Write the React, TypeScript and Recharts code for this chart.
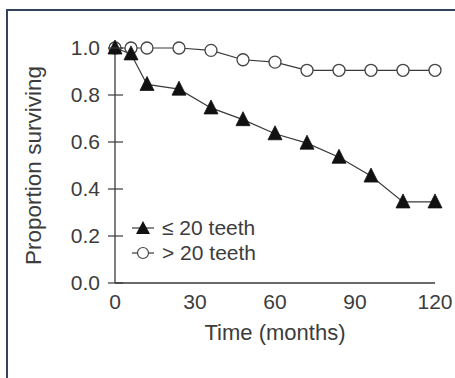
import React from 'react';
import { LineChart, Line, XAxis, YAxis, Legend } from 'recharts';

const months = [0, 6, 12, 24, 36, 48, 60, 72, 84, 96, 108, 120];
const fewTeeth = [1.0, 0.975, 0.845, 0.825, 0.745, 0.695, 0.635, 0.595, 0.535, 0.455, 0.345, 0.345];
const manyTeeth = [1.0, 1.0, 1.0, 1.0, 0.99, 0.95, 0.94, 0.905, 0.905, 0.905, 0.905, 0.905];
const xTicks = [0, 30, 60, 90, 120];
const yTicks = [0, 0.2, 0.4, 0.6, 0.8, 1.0];
const legendOrder = ['few', 'many'];

const data = months.map((m, i) => ({ month: m, few: fewTeeth[i], many: manyTeeth[i] }));

const FONT = '"Liberation Sans", Arial, Helvetica, sans-serif';
const INK = '#3c3c3c';
const LINE = '#3a3a3a';

const TriangleDot = (props: any) => {
  const { cx, cy } = props;
  if (cx == null || cy == null) return null;
  return (
    <path
      d={`M${cx},${cy - 8} L${cx - 7},${cy + 6} L${cx + 7},${cy + 6} Z`}
      fill="#111"
      stroke="#111"
      strokeWidth={0.8}
    />
  );
};

const CircleDot = (props: any) => {
  const { cx, cy } = props;
  if (cx == null || cy == null) return null;
  return <circle cx={cx} cy={cy} r={6} fill="#fff" stroke="#444" strokeWidth={1.3} />;
};

const YTick = (props: any) => {
  const { x, y, payload } = props;
  return (
    <g>
      <line x1={x + 8} x2={x + 23} y1={y} y2={y} stroke={LINE} strokeWidth={1.2} />
      <text x={x} y={y} dy="0.355em" textAnchor="end" fill={INK} fontSize={21} fontFamily={FONT}>
        {Number(payload.value).toFixed(1)}
      </text>
    </g>
  );
};

const LegendBox = (props: any) => {
  const items = [...(props.payload || [])].sort(
    (a: any, b: any) => legendOrder.indexOf(a.dataKey) - legendOrder.indexOf(b.dataKey)
  );
  return (
    <div style={{ fontFamily: FONT, fontSize: 21, color: INK }}>
      {items.map((entry: any) => (
        <div key={entry.dataKey} style={{ display: 'flex', alignItems: 'center', height: 25 }}>
          <svg width={28} height={20} style={{ marginRight: 4 }}>
            <line x1={2} x2={24} y1={10} y2={10} stroke={LINE} strokeWidth={1.2} />
            {entry.dataKey === 'few' ? (
              <path d="M13,3 L6,16 L20,16 Z" fill="#111" />
            ) : (
              <circle cx={13} cy={10} r={5.5} fill="#fff" stroke="#444" strokeWidth={1.2} />
            )}
          </svg>
          <span>{entry.value}</span>
        </div>
      ))}
    </div>
  );
};

export default function App() {
  return (
    <div style={{ position: 'absolute', left: 0, top: 0, width: 455, height: 378, background: '#fff', overflow: 'hidden' }}>
      <div
        style={{
          position: 'absolute',
          left: 6,
          top: 9,
          width: 460,
          height: 380,
          borderLeft: '2px solid #34435c',
          borderTop: '2px solid #34435c',
        }}
      />
      <div style={{ position: 'absolute', left: 0, top: 0 }}>
        <LineChart width={455} height={378} data={data} margin={{ top: 48, right: 20, bottom: 65, left: 0 }}>
          <XAxis
            dataKey="month"
            type="number"
            domain={[0, 120]}
            ticks={xTicks}
            height={30}
            tickLine={false}
            tickSize={0}
            tickMargin={11}
            axisLine={{ stroke: LINE, strokeWidth: 1.3 }}
            tick={{ fill: INK, fontSize: 21, fontFamily: FONT }}
            label={{ value: 'Time (months)', position: 'insideBottom', offset: -27, fill: INK, fontSize: 22, fontFamily: FONT }}
          />
          <YAxis
            type="number"
            domain={[0, 1]}
            ticks={yTicks}
            width={115}
            tickLine={false}
            tickSize={0}
            tickMargin={15}
            axisLine={{ stroke: LINE, strokeWidth: 1.3 }}
            tick={<YTick />}
            label={{ value: 'Proportion surviving', angle: -90, position: 'insideLeft', offset: 33, fill: INK, fontSize: 22.5, fontFamily: FONT, style: { textAnchor: 'middle' } }}
          />
          <Legend
            layout="vertical"
            align="center"
            verticalAlign="middle"
            wrapperStyle={{ left: 130, top: 215, width: 'auto' }}
            content={<LegendBox />}
          />
          <Line
            dataKey="many"
            name="> 20 teeth"
            stroke={LINE}
            strokeWidth={1.2}
            dot={(p: any) => <CircleDot key={`c${p.index}`} {...p} />}
            isAnimationActive={false}
          />
          <Line
            dataKey="few"
            name="≤ 20 teeth"
            stroke={LINE}
            strokeWidth={1.2}
            dot={(p: any) => <TriangleDot key={`t${p.index}`} {...p} />}
            isAnimationActive={false}
          />
        </LineChart>
      </div>
    </div>
  );
}
